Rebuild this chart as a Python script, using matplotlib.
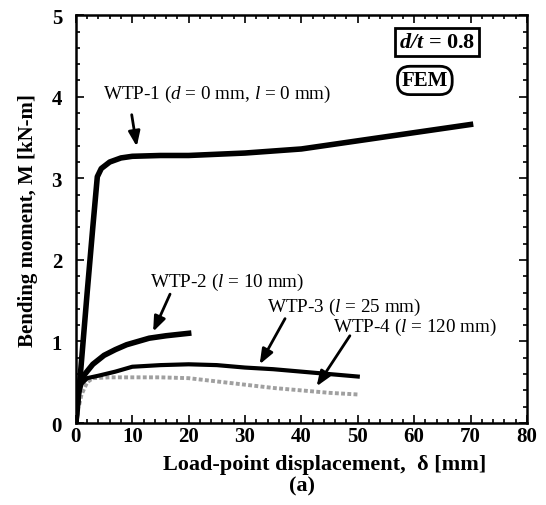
import matplotlib.pyplot as plt
from matplotlib.ticker import MultipleLocator

# curve data
wtp1_x = [0, 0.8, 2.0, 3.0, 3.8, 4.5, 6.0, 8.0, 10, 15, 20, 30, 40, 50, 60, 70]
wtp1_y = [0, 0.6, 1.6, 2.4, 3.02, 3.12, 3.2, 3.25, 3.27, 3.28, 3.28, 3.31, 3.36, 3.46, 3.56, 3.66]

wtp2_x = [0, 0.5, 1.0, 1.6, 3.0, 5.0, 7.0, 9.0, 11, 13, 16, 20]
wtp2_y = [0, 0.4, 0.52, 0.6, 0.72, 0.83, 0.9, 0.96, 1.0, 1.04, 1.07, 1.1]

wtp3_x = [0, 0.5, 1.0, 2.0, 4.0, 7.0, 10, 15, 20, 25, 30, 35, 40, 45, 50]
wtp3_y = [0, 0.35, 0.48, 0.55, 0.58, 0.63, 0.69, 0.71, 0.72, 0.71, 0.68, 0.66, 0.63, 0.60, 0.57]

wtp4_x = [0, 0.5, 1.0, 2.0, 3.0, 6.0, 10, 15, 20, 25, 30, 35, 40, 45, 50]
wtp4_y = [0, 0.2, 0.35, 0.5, 0.55, 0.56, 0.56, 0.56, 0.55, 0.51, 0.47, 0.43, 0.40, 0.37, 0.35]

x_ticks = [0, 10, 20, 30, 40, 50, 60, 70, 80]
y_ticks = [0, 1, 2, 3, 4, 5]

plt.rcParams["font.family"] = ["Liberation Serif", "DejaVu Serif"]
plt.rcParams["mathtext.fontset"] = "custom"
plt.rcParams["mathtext.rm"] = "Liberation Serif"
plt.rcParams["mathtext.it"] = "Liberation Serif:italic"
plt.rcParams["mathtext.bf"] = "Liberation Serif:bold"
plt.rcParams["mathtext.bfit"] = "Liberation Serif:bold:italic"

fig = plt.figure(figsize=(5.46, 5.06), dpi=100)
ax = fig.add_axes([0.139, 0.162, 0.826, 0.806])

ax.plot(wtp4_x, wtp4_y, color="#a0a0a0", lw=2.8, ls=(0, (1, 0.6)))
ax.plot(wtp1_x, wtp1_y, color="black", lw=4)
ax.plot(wtp2_x, wtp2_y, color="black", lw=4)
ax.plot(wtp3_x, wtp3_y, color="black", lw=3)

ax.set_xlim(0, 80)
ax.set_ylim(0, 5)
ax.set_xticks(x_ticks)
ax.set_yticks(y_ticks)
ax.xaxis.set_minor_locator(MultipleLocator(2))
ax.yaxis.set_minor_locator(MultipleLocator(0.2))
ax.tick_params(which="both", direction="in", top=True, right=True, width=1.2)
ax.tick_params(which="major", length=6, labelsize=15)
ax.tick_params(axis="x", which="major", pad=2)
ax.tick_params(axis="y", which="major", pad=10)
ax.tick_params(which="minor", length=3)
for lab in ax.get_xticklabels() + ax.get_yticklabels():
    lab.set_fontweight("bold")
for sp in ax.spines.values():
    sp.set_linewidth(1.8)

ax.set_xlabel("Load-point displacement,  δ [mm]", fontsize=16, fontweight="bold")
ax.xaxis.set_label_coords(0.552, -0.075)
ax.set_ylabel("Bending moment, M [kN-m]", fontsize=15, fontweight="bold", labelpad=10)
fig.text(0.553, 0.038, "(a)", fontsize=16, fontweight="bold", ha="center", va="center")

txt = dict(fontsize=13.8, ha="left", va="center")
arrow = dict(arrowstyle="-|>,head_width=0.35,head_length=0.9", color="black", lw=2,
             shrinkA=0, shrinkB=0)

ax.text(4.8, 4.04, r"WTP-1 ($\mathit{d}$ = 0 mm, $\mathit{l}$ = 0 mm)", **txt)
ax.annotate("", xy=(10.8, 3.39), xytext=(9.9, 3.78), arrowprops=arrow)

ax.text(13.2, 1.74, r"WTP-2 ($\mathit{l}$ = 10 mm)", **txt)
ax.annotate("", xy=(13.7, 1.12), xytext=(16.7, 1.58), arrowprops=arrow)

ax.text(33.9, 1.43, r"WTP-3 ($\mathit{l}$ = 25 mm)", **txt)
ax.annotate("", xy=(32.6, 0.72), xytext=(37.1, 1.28), arrowprops=arrow)

ax.text(45.6, 1.19, r"WTP-4 ($\mathit{l}$ = 120 mm)", **txt)
ax.annotate("", xy=(42.7, 0.45), xytext=(48.6, 1.07), arrowprops=arrow)

ax.text(64.0, 4.67, r"$\mathbfit{d/t}$ = 0.8", fontsize=16, fontweight="bold",
        ha="center", va="center",
        bbox=dict(boxstyle="square,pad=0.18", fc="white", ec="black", lw=2))
ax.text(61.9, 4.2, "FEM", fontsize=15, fontweight="bold", ha="center", va="center",
        bbox=dict(boxstyle="round,pad=0.2,rounding_size=0.6", fc="white", ec="black", lw=2))

fig.savefig("out.png", dpi=100)
